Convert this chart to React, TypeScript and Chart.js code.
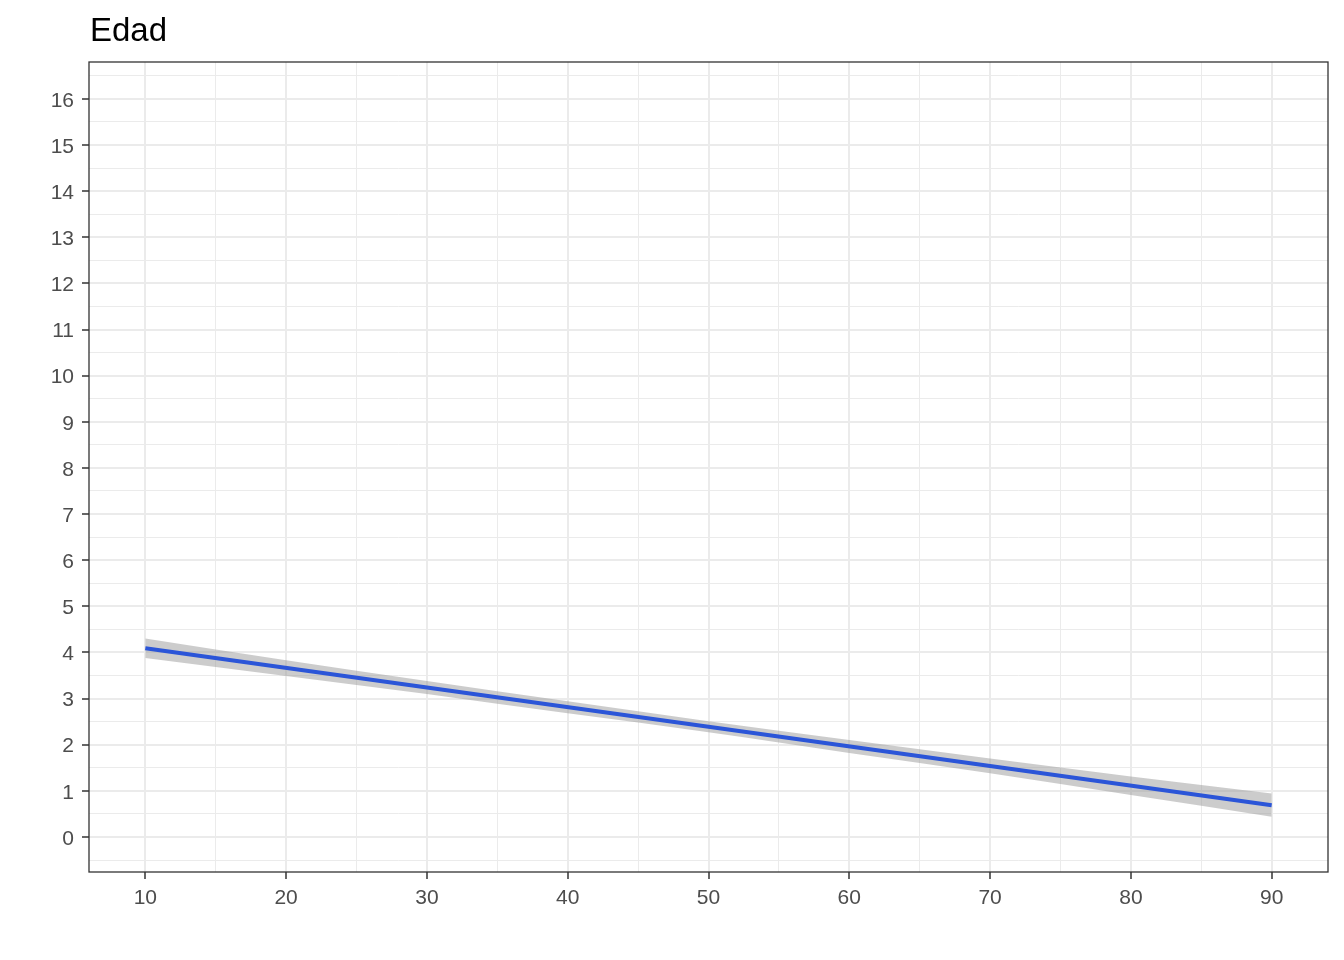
import React, { useEffect, useRef } from "react";
import { Chart, registerables } from "chart.js";

Chart.register(...registerables);

const TITLE = "Edad";
const fitX = [10, 90];
const fitY = [4.09, 0.685];
const bandX = [10, 20, 30, 40, 50, 60, 70, 80, 90];
const bandUpper = [4.3, 3.83, 3.38, 2.94, 2.51, 2.1, 1.7, 1.31, 0.94];
const bandLower = [3.88, 3.49, 3.1, 2.68, 2.27, 1.82, 1.38, 0.91, 0.44];
const xTicks = [10, 15, 20, 25, 30, 35, 40, 45, 50, 55, 60, 65, 70, 75, 80, 85, 90];
const yTicks = [
  -0.5, 0, 0.5, 1, 1.5, 2, 2.5, 3, 3.5, 4, 4.5, 5, 5.5, 6, 6.5, 7, 7.5, 8, 8.5,
  9, 9.5, 10, 10.5, 11, 11.5, 12, 12.5, 13, 13.5, 14, 14.5, 15, 15.5, 16, 16.5,
];

const FONT = "'Liberation Sans', Arial, sans-serif";

export default function App() {
  const ref = useRef<HTMLCanvasElement | null>(null);

  useEffect(() => {
    document.body.style.margin = "0";
    const canvas = ref.current;
    if (!canvas) return;

    const framePlugin = {
      id: "frame",
      afterDraw(chart: any) {
        const { ctx, chartArea } = chart;
        ctx.save();
        ctx.strokeStyle = "#333333";
        ctx.lineWidth = 1.3;
        ctx.strokeRect(
          chartArea.left,
          chartArea.top,
          chartArea.right - chartArea.left,
          chartArea.bottom - chartArea.top
        );
        ctx.fillStyle = "#000000";
        ctx.font = `33px ${FONT}`;
        ctx.textBaseline = "alphabetic";
        ctx.textAlign = "left";
        ctx.fillText(TITLE, 90, 40.5);
        ctx.restore();
      },
    };

    const isMajorY = (v: number) => Number.isInteger(v);
    const isMajorX = (v: number) => v % 10 === 0;

    const chart = new Chart(canvas, {
      type: "line",
      data: {
        datasets: [
          {
            label: "fit",
            data: fitX.map((x, i) => ({ x, y: fitY[i] })),
            borderColor: "#2B55D8",
            borderWidth: 4,
            pointRadius: 0,
            fill: false,
          },
          {
            label: "upper",
            data: bandX.map((x, i) => ({ x, y: bandUpper[i] })),
            borderWidth: 0,
            borderColor: "rgba(0,0,0,0)",
            pointRadius: 0,
            cubicInterpolationMode: "monotone",
            fill: false,
          },
          {
            label: "lower",
            data: bandX.map((x, i) => ({ x, y: bandLower[i] })),
            borderWidth: 0,
            borderColor: "rgba(0,0,0,0)",
            backgroundColor: "rgba(153,153,153,0.5)",
            pointRadius: 0,
            cubicInterpolationMode: "monotone",
            fill: "-1",
          },
        ],
      },
      options: {
        animation: false,
        responsive: false,
        devicePixelRatio: 1,
        layout: { padding: { top: 62, right: 16, left: 0, bottom: 0 } },
        plugins: {
          legend: { display: false },
          tooltip: { enabled: false },
          title: { display: false },
        },
        scales: {
          x: {
            type: "linear",
            min: 6,
            max: 94,
            afterBuildTicks: (scale: any) => {
              scale.ticks = xTicks.map((v) => ({ value: v }));
            },
            afterFit: (scale: any) => {
              scale.height = 88;
            },
            border: { display: false },
            grid: {
              color: "#EBEBEB",
              lineWidth: (ctx: any) => (ctx.tick && isMajorX(ctx.tick.value) ? 2 : 1),
              tickColor: (ctx: any) =>
                ctx.tick && isMajorX(ctx.tick.value) ? "#333333" : "rgba(0,0,0,0)",
              tickWidth: 1.5,
              tickLength: 7,
            },
            ticks: {
              autoSkip: false,
              maxRotation: 0,
              padding: 7,
              color: "#4D4D4D",
              font: { family: FONT, size: 21 },
              callback: (v: any) => (isMajorX(Number(v)) ? String(v) : ""),
            },
          },
          y: {
            type: "linear",
            min: -0.76,
            max: 16.8,
            afterBuildTicks: (scale: any) => {
              scale.ticks = yTicks.map((v) => ({ value: v }));
            },
            afterFit: (scale: any) => {
              scale.width = 89;
            },
            border: { display: false },
            grid: {
              color: "#EBEBEB",
              lineWidth: (ctx: any) => (ctx.tick && isMajorY(ctx.tick.value) ? 2 : 1),
              tickColor: (ctx: any) =>
                ctx.tick && isMajorY(ctx.tick.value) ? "#333333" : "rgba(0,0,0,0)",
              tickWidth: 1.5,
              tickLength: 7,
            },
            ticks: {
              autoSkip: false,
              padding: 8,
              labelOffset: 2,
              color: "#4D4D4D",
              font: { family: FONT, size: 21 },
              callback: (v: any) => (isMajorY(Number(v)) ? String(v) : ""),
            },
          },
        },
      },
      plugins: [framePlugin],
    } as any);

    return () => chart.destroy();
  }, []);

  return (
    <div style={{ position: "absolute", left: 0, top: 0, width: 1344, height: 960 }}>
      <canvas ref={ref} width={1344} height={960} style={{ width: 1344, height: 960 }} />
    </div>
  );
}
